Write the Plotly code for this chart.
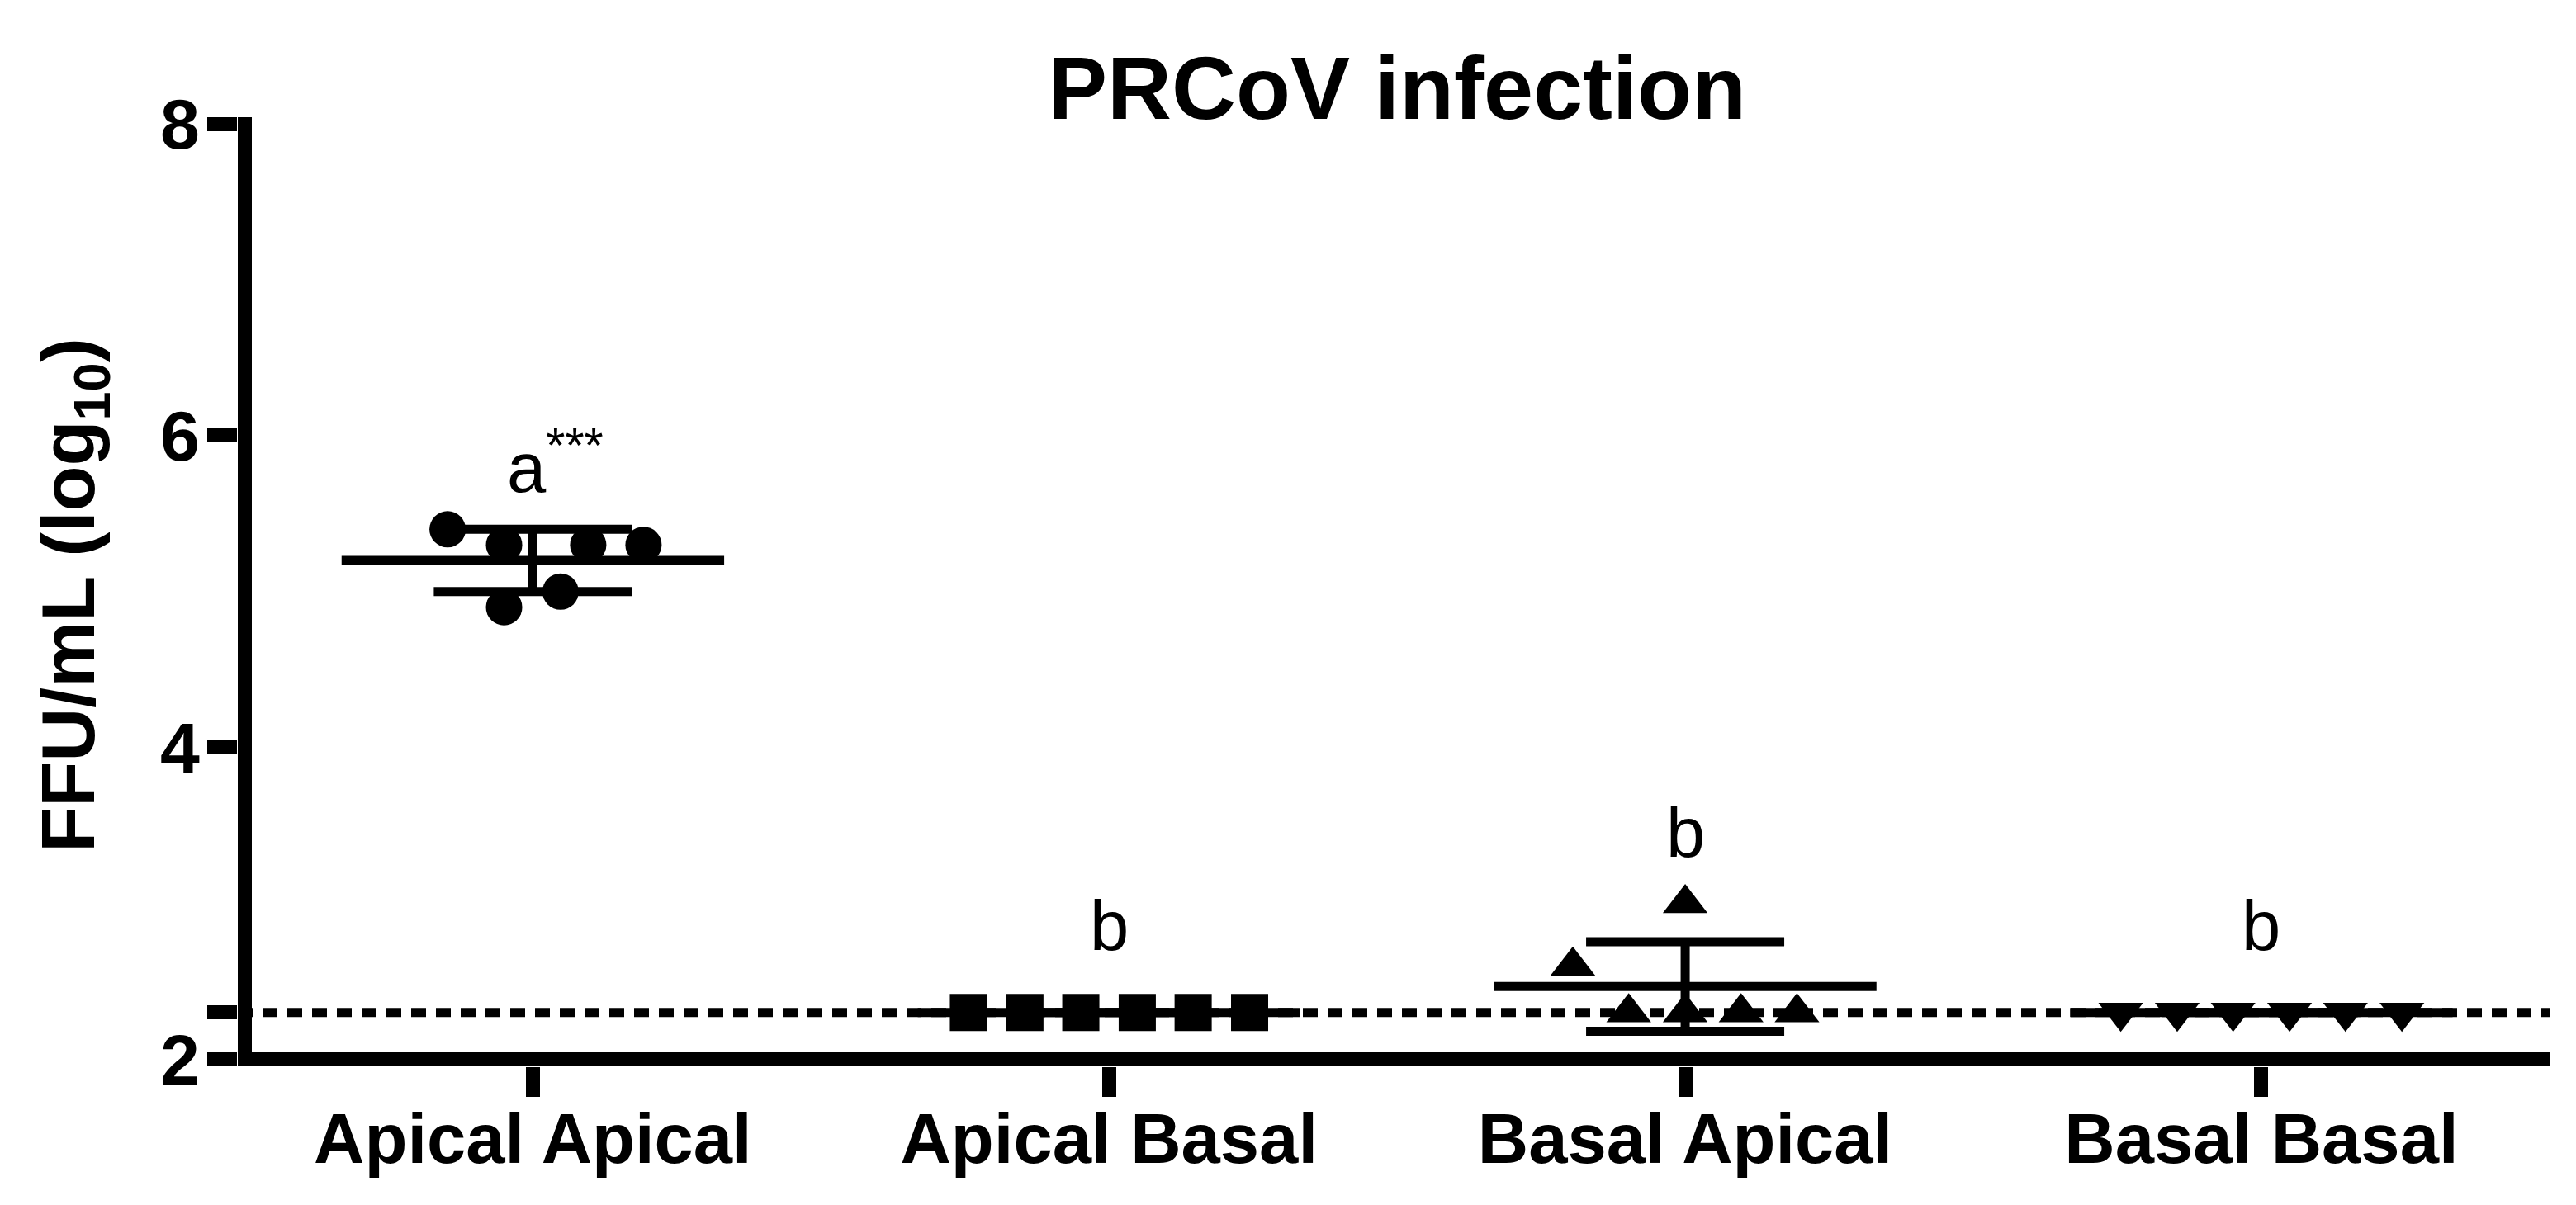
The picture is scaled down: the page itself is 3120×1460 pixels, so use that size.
import plotly.graph_objects as go

# ---------------- data ----------------
categories = ["Apical Apical", "Apical Basal", "Basal Apical", "Basal Basal"]

apical_apical = [5.4, 5.3, 4.9, 5.0, 5.3, 5.3]
apical_apical_jitter = [-0.148, -0.050, -0.050, 0.048, 0.096, 0.192]

apical_basal = [2.3, 2.3, 2.3, 2.3, 2.3, 2.3]
apical_basal_jitter = [-0.244, -0.146, -0.049, 0.049, 0.146, 0.244]

basal_apical = [2.6, 2.3, 3.0, 2.3, 2.3, 2.3]
basal_apical_jitter = [-0.195, -0.098, 0.0, 0.0, 0.097, 0.194]

basal_basal = [2.3, 2.3, 2.3, 2.3, 2.3, 2.3]
basal_basal_jitter = [-0.244, -0.146, -0.049, 0.049, 0.146, 0.244]

group_means = [5.2, 2.3, 2.467, 2.3]
group_sds = [0.2, 0.0, 0.2875, 0.0]

letters = ["a<sup>***</sup>", "b", "b", "b"]
letter_y = [5.637, 2.697, 3.292, 2.697]

detection_limit = 2.3
y_tickvals = [2, 2.3, 4, 6, 8]
y_ticktext = ["2", "", "4", "6", "8"]
y_axis_min = 2
x_axis_min = -0.5

title_text = "PRCoV infection"
y_title = "FFU/mL (log<sub>10</sub>)"

# ---------------- layout geometry ----------------
OFF = 8            # default page body margin
AX_LW = 17         # axis line width
W, H = 3120 - 2 * OFF, 1460 - 2 * OFF
PX_X = 697.7       # px per category
PX_Y = 188.8       # px per log unit
# plot area (page px) so that axis lines are centred on x=-0.5 / y=2
L_page = 296.7 - AX_LW / 2
R_page = 3087.7
B_page = 1283.3 + AX_LW / 2
T_page = 142.3
L, R, T, B = L_page - OFF, R_page - OFF, T_page - OFF, B_page - OFF
x_range = [x_axis_min - (AX_LW / 2) / PX_X, x_axis_min + (R_page - L_page - AX_LW / 2) / PX_X]
y_range = [y_axis_min - (AX_LW / 2) / PX_Y, y_axis_min + (B_page - T_page - AX_LW / 2) / PX_Y]
FONT = "Liberation Sans, Arial, sans-serif"


def paper_x(page_x):
    return (page_x - OFF - L) / (R - L)


def paper_y(page_y):
    return (B - (page_y - OFF)) / (B - T)


groups = [
    (apical_apical, apical_apical_jitter, "circle", 44),
    (apical_basal, apical_basal_jitter, "square", 45),
    (basal_apical, basal_apical_jitter, "triangle-up", 47),
    (basal_basal, basal_basal_jitter, "triangle-down", 47),
]

fig = go.Figure()

# scatter points
for i, (vals, jit, sym, size) in enumerate(groups):
    fig.add_trace(go.Scatter(
        x=[i + j for j in jit], y=vals, mode="markers",
        marker=dict(symbol=sym, size=size, color="black", line=dict(width=0)),
        showlegend=False, hoverinfo="skip", cliponaxis=False))

# mean lines
half = 0.332
mx, my = [], []
for i, m in enumerate(group_means):
    mx += [i - half, i + half, None]
    my += [m, m, None]
fig.add_trace(go.Scatter(x=mx, y=my, mode="lines",
                         line=dict(color="black", width=11),
                         showlegend=False, hoverinfo="skip"))

# SD error bars
fig.add_trace(go.Scatter(
    x=list(range(len(categories))), y=group_means, mode="markers",
    marker=dict(size=1, color="rgba(0,0,0,0)"),
    error_y=dict(type="data", array=group_sds, visible=True,
                 color="black", thickness=11, width=120),
    showlegend=False, hoverinfo="skip"))

# detection limit dotted line
fig.add_shape(type="line", xref="paper", x0=0, x1=1, yref="y",
              y0=detection_limit, y1=detection_limit, layer="below",
              line=dict(color="black", width=11, dash="18px,12px"))

# axis lines (centred on the axis values, like the original)
fig.add_shape(type="line", xref="paper", x0=0, x1=1, yref="y",
              y0=y_axis_min, y1=y_axis_min, layer="above",
              line=dict(color="black", width=AX_LW))
fig.add_shape(type="line", xref="x", x0=x_axis_min, x1=x_axis_min, yref="paper",
              y0=0, y1=1, layer="above",
              line=dict(color="black", width=AX_LW))

# letters
for i, (txt, yv) in enumerate(zip(letters, letter_y)):
    if i == 0:
        fig.add_annotation(x=i, y=yv, xref="x", yref="y", text=txt,
                           showarrow=False, xanchor="left", yanchor="bottom",
                           xshift=-33, yshift=-19,
                           font=dict(family=FONT, size=85, color="black"))
    else:
        fig.add_annotation(x=i, y=yv, xref="x", yref="y", text=txt,
                           showarrow=False, xanchor="center", yanchor="bottom",
                           yshift=-19,
                           font=dict(family=FONT, size=85, color="black"))

# title (baseline at page y ~145)
fig.add_annotation(x=paper_x(1692), y=paper_y(145 + 0.212 * 108 + 1),
                   xref="paper", yref="paper", text=title_text,
                   showarrow=False, xanchor="center", yanchor="bottom",
                   font=dict(family=FONT, size=108, color="black", weight="bold"))

# y-axis title
fig.add_annotation(x=paper_x(90), y=paper_y(721), xref="paper", yref="paper",
                   text=y_title, textangle=-90, showarrow=False,
                   xanchor="center", yanchor="middle",
                   font=dict(family=FONT, size=90, color="black", weight="bold"))

fig.update_layout(
    width=W, height=H, autosize=False,
    margin=dict(l=L, r=W - R, t=T, b=H - B, pad=0),
    plot_bgcolor="white", paper_bgcolor="white",
    showlegend=False,
    xaxis=dict(range=x_range, tickvals=list(range(len(categories))),
               ticktext=categories, showgrid=False, zeroline=False,
               showline=False,
               ticks="outside", ticklen=36, tickwidth=17, tickcolor="black",
               ticklabelstandoff=-22,
               tickfont=dict(family=FONT, size=85, color="black", weight="bold")),
    yaxis=dict(range=y_range, tickvals=y_tickvals, ticktext=y_ticktext,
               showgrid=False, zeroline=False,
               showline=False,
               ticks="outside", ticklen=36, tickwidth=17, tickcolor="black",
               ticklabelstandoff=-8,
               tickfont=dict(family=FONT, size=86, color="black", weight="bold")),
)

fig.write_html("out.html")
